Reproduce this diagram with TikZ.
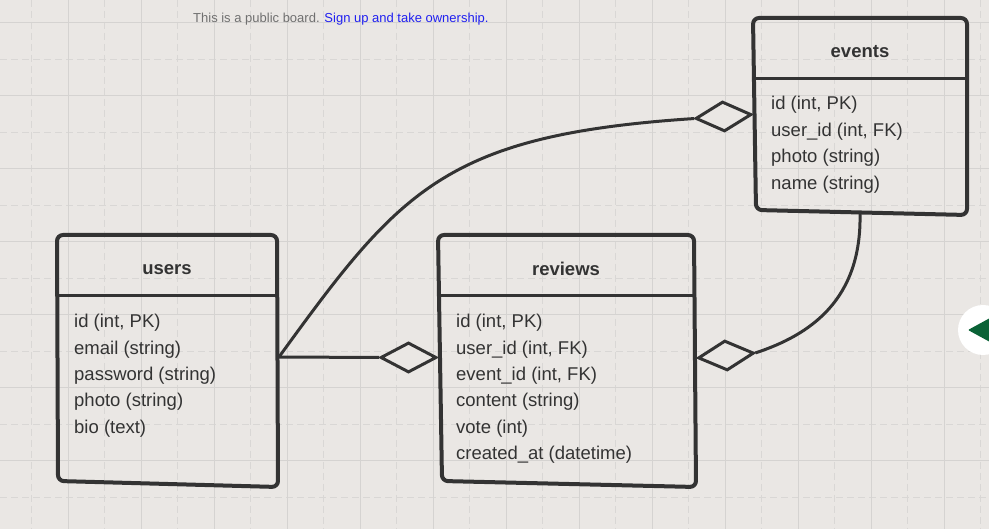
\documentclass[tikz,border=0pt]{standalone}
\usepackage{fontspec}
\setmainfont{Liberation Sans}
\usetikzlibrary{shapes.geometric}
\definecolor{bg}{HTML}{EAE7E4}
\definecolor{gridc}{HTML}{D5D3D1}
\definecolor{gridd}{HTML}{D9D7D5}
\definecolor{ink}{HTML}{333333}
\definecolor{linkblue}{HTML}{2020F0}
\definecolor{note}{HTML}{707070}
\definecolor{btngreen}{HTML}{0A6236}
\begin{document}
\begin{tikzpicture}[x=1pt,y=-1pt,
  boxline/.style={draw=ink, line width=4pt, rounded corners=6pt, line join=round},
  divider/.style={draw=ink, line width=3pt},
  conn/.style={draw=ink, line width=3pt},
  diam/.style={shape=diamond, draw=ink, line width=3pt, fill=bg, inner sep=0pt, minimum width=56pt, minimum height=30pt},
  title/.style={font=\bfseries\fontsize{18.5}{22}\selectfont, text=ink, anchor=base, inner sep=0pt},
  field/.style={font=\fontsize{18.5}{22}\selectfont, text=ink, anchor=base west, inner sep=0pt},
  gsolid/.style={draw=gridc, line width=1pt},
  gdash/.style={draw=gridd, line width=1pt, dash pattern=on 7pt off 4pt}
]
\fill[bg] (0,0) rectangle (989,529);
\useasboundingbox (0,0) rectangle (989,529);
% grid
\foreach \x in {31.5,104.5,177.5,250.5,323.5,396.5,469.5,542.5,615.5,688.5,761.5,834.5,907.5,980.5}
  \draw[gdash] (\x,0) -- (\x,529);
\foreach \y in {59.5,132.5,205.5,278.5,351.5,424.5,497.5}
  \draw[gdash] (0,\y) -- (989,\y);
\foreach \x in {68,141,214,287,360,433,506,579,652,725,798,871,944}
  \draw[gsolid] (\x,0) -- (\x,529);
\foreach \y in {23,96,169,242,315,388,461}
  \draw[gsolid] (0,\y) -- (989,\y);

% notice
\node[anchor=base west, inner sep=0pt, font=\fontsize{13}{15}\selectfont] (notice) at (193,22.5)
  {\textcolor{note}{This is a public board.} \textcolor{linkblue}{Sign up and take ownership.}};

% users
\draw[boxline] (57,235) -- (277,235) -- (278,487) -- (58,481) -- cycle;
\draw[divider] (59,296) -- (276,296);
\node[title] (usersT) at (167,275) {users};
\node[field] (u1) at (74,328) {id (int, PK)};
\node[field] (u2) at (74,354.3) {email (string)};
\node[field] (u3) at (74,380.6) {password (string)};
\node[field] (u4) at (74,407) {photo (string)};
\node[field] (u5) at (74,433.3) {bio (text)};
\coordinate (uR) at (279,357);

% reviews
\draw[boxline] (438,235) -- (694,235) -- (696,487) -- (442,481) -- cycle;
\draw[divider] (440,296) -- (694,296);
\node[title] (reviewsT) at (566,275.5) {reviews};
\node[field] (r1) at (456,328) {id (int, PK)};
\node[field] (r2) at (456,354.3) {user\_id (int, FK)};
\node[field] (r3) at (456,380.6) {event\_id (int, FK)};
\node[field] (r4) at (456,407) {content (string)};
\node[field] (r5) at (456,433.3) {vote (int)};
\node[field] (r6) at (456,459.6) {created\_at (datetime)};

% events
\draw[boxline] (753,18) -- (967,18) -- (967,215) -- (756,210) -- cycle;
\draw[divider] (755,79) -- (965,79);
\node[title] (eventsT) at (860,57.5) {events};
\node[field] (e1) at (771,110) {id (int, PK)};
\node[field] (e2) at (771,136.5) {user\_id (int, FK)};
\node[field] (e3) at (771,163) {photo (string)};
\node[field] (e4) at (771,189.5) {name (string)};
\coordinate (eB) at (860,213);

% diamonds
\node[diam] (dRev) at (408.5,357.5) {};
\node[diam, rotate=4] (dEv) at (723.5,116.5) {};
\node[diam, rotate=5] (dRevR) at (726,355.5) {};

% connectors
\draw[conn] (uR) -- (dRev.west);
\draw[conn] (uR) .. controls (400,190) and (445,135) .. (dEv.west);
\draw[conn] (eB) .. controls (862,300) and (810,335) .. (dRevR.east);

% button
\node[circle, fill=white, minimum size=50pt, inner sep=0pt] (btn) at (983,330) {};
\fill[btngreen, rounded corners=1pt] (968,330) -- (990,318) -- (990,342) -- cycle;
\end{tikzpicture}
\end{document}
